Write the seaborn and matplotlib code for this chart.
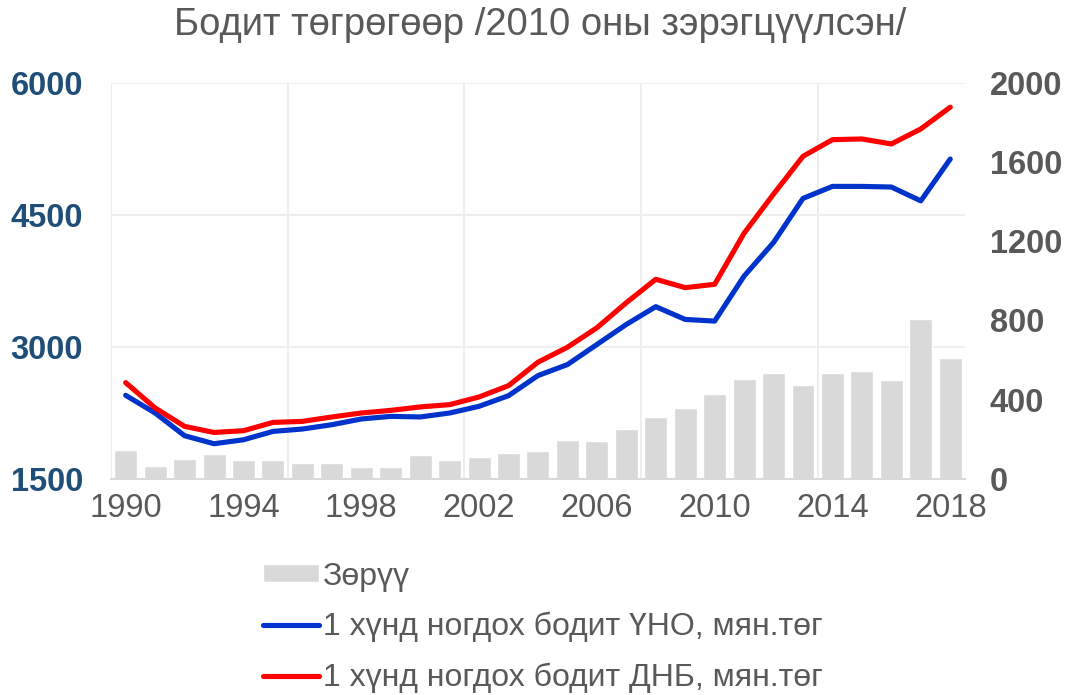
import numpy as np
import pandas as pd
import seaborn as sns
import matplotlib.pyplot as plt

# Өгөгдөл
years = list(range(1990, 2019))
gdp_pc = [2449, 2248, 1990, 1899, 1944, 2039, 2066, 2115, 2180, 2210,
          2203, 2248, 2324, 2445, 2673, 2798, 3026, 3254, 3456, 3311,
          3292, 3804, 4185, 4686, 4822, 4822, 4815, 4658, 5133]
gni_pc = [2593, 2305, 2096, 2027, 2047, 2141, 2153, 2203, 2248, 2278,
          2317, 2343, 2430, 2559, 2825, 2995, 3216, 3501, 3767, 3672,
          3710, 4291, 4735, 5164, 5353, 5361, 5304, 5475, 5722]
diff = [147, 67, 100, 123, 96, 96, 81, 81, 62, 62,
        118, 96, 110, 130, 142, 197, 192, 252, 311, 360,
        427, 506, 532, 474, 535, 547, 498, 807, 609]

left_ticks = [1500, 3000, 4500, 6000]
right_ticks = [0, 400, 800, 1200, 1600, 2000]

df = pd.DataFrame({"year": years, "pos": np.arange(len(years)),
                   "gdp": gdp_pc, "gni": gni_pc, "diff": diff})

sns.set_style("white")
plt.rcParams["font.family"] = ["Liberation Sans", "DejaVu Sans"]

fig = plt.figure(figsize=(10.71, 6.95), dpi=100)
ax = fig.add_axes([0.1036, 0.311, 0.7974, 0.570])
ax2 = ax.twinx()

# баганууд - баруун тэнхлэг
sns.barplot(data=df, x="pos", y="diff", color="#D9D9D9", width=0.78,
            saturation=1, ax=ax2, label="Зөрүү", zorder=2)
if ax2.get_legend() is not None:
    ax2.get_legend().remove()
ax2.set_ylim(0, 2000)
ax2.set_yticks(right_ticks)
ax2.tick_params(axis="y", length=0, pad=18, labelsize=23.5, labelcolor="#595959")
for t in ax2.get_yticklabels():
    t.set_fontweight("bold")
ax2.set_ylabel("")

# хэвтээ сүлжээ (зүүн тэнхлэгийн утгууд дээр)
grid_y = [2000 * (v - 1500) / 4500 for v in left_ticks]
ax2.yaxis.remove_overlapping_locs = False
ax2.set_yticks(grid_y, minor=True)
ax2.grid(which="minor", axis="y", color="#EDEDED", linewidth=1.3, zorder=0)
ax2.tick_params(which="minor", length=0)

# шугамууд - зүүн тэнхлэг
sns.lineplot(data=df, x="pos", y="gdp", color="#0033CC", linewidth=3.7,
             ax=ax, label="1 хүнд ногдох бодит ҮНО, мян.төг")
sns.lineplot(data=df, x="pos", y="gni", color="#FF0000", linewidth=3.7,
             ax=ax, label="1 хүнд ногдох бодит ДНБ, мян.төг")
ax.set_zorder(ax2.get_zorder() + 1)
ax.patch.set_visible(False)
ax.set_ylim(1500, 6000)
ax.set_yticks(left_ticks)
ax.set_xlim(-0.5, len(years) - 0.5)
ax.set_xticks(df["pos"][::4])
ax.set_xticklabels(df["year"][::4])
ax.set_xticks(np.arange(-0.5, len(years), 6), minor=True)
ax.grid(which="minor", axis="x", color="#EDEDED", linewidth=1.3)
ax.tick_params(which="minor", length=0)
ax.tick_params(axis="y", length=0, pad=20, labelsize=23.5, labelcolor="#1F4E79")
ax.tick_params(axis="x", length=0, pad=10, labelsize=23.5, labelcolor="#595959")
for t in ax.get_yticklabels():
    t.set_fontweight("bold")
ax.set_xlabel("")
ax.set_ylabel("")

for a in (ax, ax2):
    for s in ["top", "left", "right"]:
        a.spines[s].set_visible(False)
    a.spines["bottom"].set_color("#D9D9D9")
    a.spines["bottom"].set_linewidth(1.3)

# тайлбар
h1, l1 = ax2.get_legend_handles_labels()
h2, l2 = ax.get_legend_handles_labels()
ax.get_legend().remove()
fig.legend(h1 + h2, l1 + l2, loc="upper left", bbox_to_anchor=(0.231, 0.215),
           frameon=False, fontsize=23, labelcolor="#595959", handlelength=1.75,
           handleheight=0.5, handletextpad=0.12, labelspacing=0.64, borderpad=0)

fig.suptitle("Бодит төгрөгөөр /2010 оны зэрэгцүүлсэн/", x=0.504, y=0.99,
             fontsize=27.5, color="#595959")

fig.savefig("out.png", dpi=100)
